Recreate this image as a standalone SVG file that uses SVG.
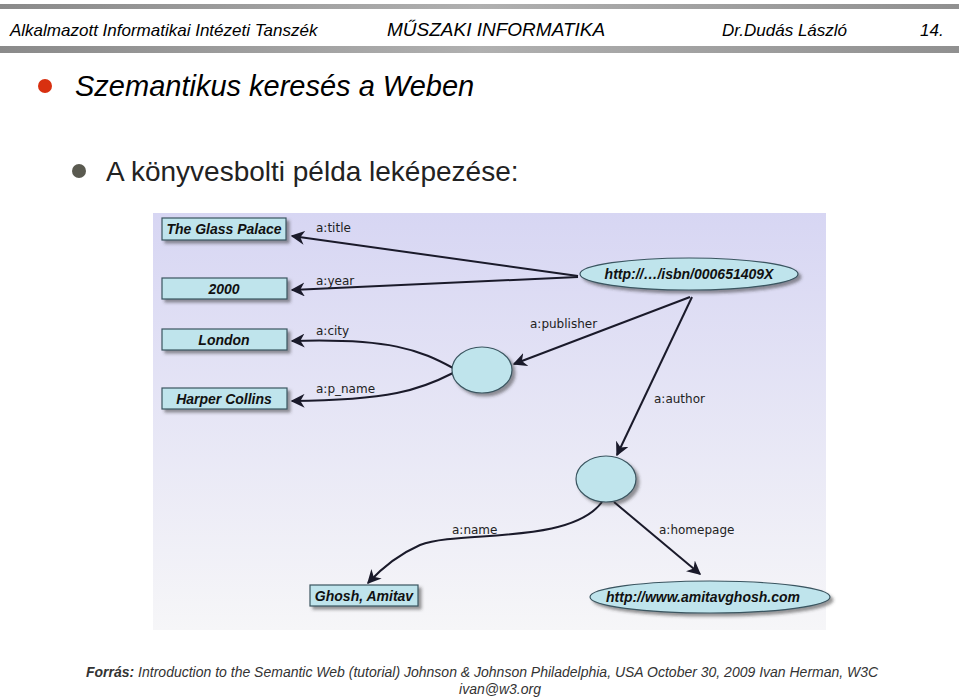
<svg xmlns="http://www.w3.org/2000/svg" width="959" height="699" viewBox="0 0 959 699">
<style>
.h{font-family:"Liberation Sans",Arial,sans-serif;font-style:italic;fill:#000}
.b{fill:#bfe4ec;stroke:#3a5560;stroke-width:1.2}
.bt{font-family:"Liberation Sans",Arial,sans-serif;font-weight:bold;font-style:italic;font-size:14px;fill:#111;text-anchor:middle}
.lb{font-family:"DejaVu Sans",sans-serif;font-size:12px;fill:#222}
.c{fill:none;stroke:#1a1a2a;stroke-width:2}
</style>
<defs>
<linearGradient id="bg" x1="0" y1="0" x2="0" y2="1"><stop offset="0" stop-color="#d7d6f3"/><stop offset="1" stop-color="#f6f6f8"/></linearGradient>
<linearGradient id="bar" x1="0" y1="0" x2="1" y2="0"><stop offset="0" stop-color="#8a8a8a"/><stop offset="0.5" stop-color="#b0b0b0"/><stop offset="1" stop-color="#909090"/></linearGradient>
<marker id="a" viewBox="0 0 10 10" refX="9" refY="5" markerWidth="7" markerHeight="7" orient="auto"><path d="M0,0 L10,5 L0,10 L3,5 z" fill="#1a1a2a"/></marker>
<filter id="s" x="-20%" y="-20%" width="150%" height="160%"><feDropShadow dx="3" dy="3" stdDeviation="1.5" flood-color="#333" flood-opacity="0.5"/></filter>
</defs>
<rect width="959" height="699" fill="#fff"/>
<rect x="0" y="4" width="959" height="5" fill="url(#bar)"/>
<rect x="0" y="46" width="959" height="7" fill="url(#bar)"/>
<text class="h" x="10" y="36" font-size="17">Alkalmazott Informatikai Intézeti Tanszék</text>
<text class="h" x="387" y="36" font-size="19">MŰSZAKI INFORMATIKA</text>
<text class="h" x="722" y="36" font-size="17">Dr.Dudás László</text>
<text class="h" x="920" y="36" font-size="17">14.</text>
<circle cx="45" cy="86" r="7" fill="#d83010"/>
<text class="h" x="75" y="96" font-size="29">Szemantikus keresés a Weben</text>
<circle cx="79" cy="171" r="7" fill="#5a5a50"/>
<text x="106" y="181" font-family="Liberation Sans,Arial,sans-serif" font-size="28" fill="#222">A könyvesbolti példa leképezése:</text>
<rect x="153" y="213" width="673" height="417" fill="url(#bg)"/>
<g id="connectors">
<path class="c" d="M578,276 L292,236" marker-end="url(#a)"/>
<path class="c" d="M578,277 L292,290" marker-end="url(#a)"/>
<path class="c" d="M690,297 L514,364" marker-end="url(#a)"/>
<path class="c" d="M453,368 C420,350 390,338 292,341" marker-end="url(#a)"/>
<path class="c" d="M453,373 C420,390 390,400 292,401" marker-end="url(#a)"/>
<path class="c" d="M692,297 L617,455" marker-end="url(#a)"/>
<path class="c" d="M602,502 C570,545 460,530 420,545 C395,556 380,570 368,583" marker-end="url(#a)"/>
<path class="c" d="M614,502 L700,574" marker-end="url(#a)"/>
<text class="lb" x="316" y="232">a:title</text>
<text class="lb" x="316" y="285">a:year</text>
<text class="lb" x="530" y="328">a:publisher</text>
<text class="lb" x="316" y="335">a:city</text>
<text class="lb" x="316" y="393">a:p_name</text>
<text class="lb" x="654" y="403">a:author</text>
<text class="lb" x="452" y="534">a:name</text>
<text class="lb" x="659" y="534">a:homepage</text>
</g>
<g id="n1"><rect class="b" filter="url(#s)" x="162" y="218" width="124" height="22"/><text class="bt" x="224" y="234">The Glass Palace</text></g>
<g id="n2"><rect class="b" filter="url(#s)" x="162" y="278" width="125" height="21"/><text class="bt" x="224" y="294">2000</text></g>
<g id="n3"><rect class="b" filter="url(#s)" x="162" y="329" width="125" height="21"/><text class="bt" x="224" y="345">London</text></g>
<g id="n4"><rect class="b" filter="url(#s)" x="162" y="388" width="125" height="21"/><text class="bt" x="224" y="404">Harper Collins</text></g>
<g id="n5"><rect class="b" filter="url(#s)" x="310" y="585" width="108" height="21"/><text class="bt" x="364" y="601">Ghosh, Amitav</text></g>
<g id="n6"><ellipse class="b" filter="url(#s)" cx="689" cy="274" rx="109" ry="16"/><text class="bt" x="689" y="279">http://…/isbn/000651409X</text></g>
<g id="n7"><ellipse class="b" filter="url(#s)" cx="482" cy="370" rx="30" ry="23"/></g>
<g id="n8"><ellipse class="b" filter="url(#s)" cx="606" cy="479" rx="30" ry="23"/></g>
<g id="n9"><ellipse class="b" filter="url(#s)" cx="710" cy="597" rx="120" ry="16"/><text class="bt" x="703" y="602">http://www.amitavghosh.com</text></g>
<text x="86" y="677" font-family="Liberation Sans,Arial,sans-serif" font-style="italic" font-size="14" fill="#333"><tspan font-weight="bold">Forrás:</tspan> Introduction to the Semantic Web (tutorial)  Johnson &amp; Johnson Philadelphia, USA October 30, 2009 Ivan Herman, W3C</text>
<text x="500" y="694" font-family="Liberation Sans,Arial,sans-serif" font-style="italic" font-size="14" fill="#333" text-anchor="middle">ivan@w3.org</text>
</svg>
